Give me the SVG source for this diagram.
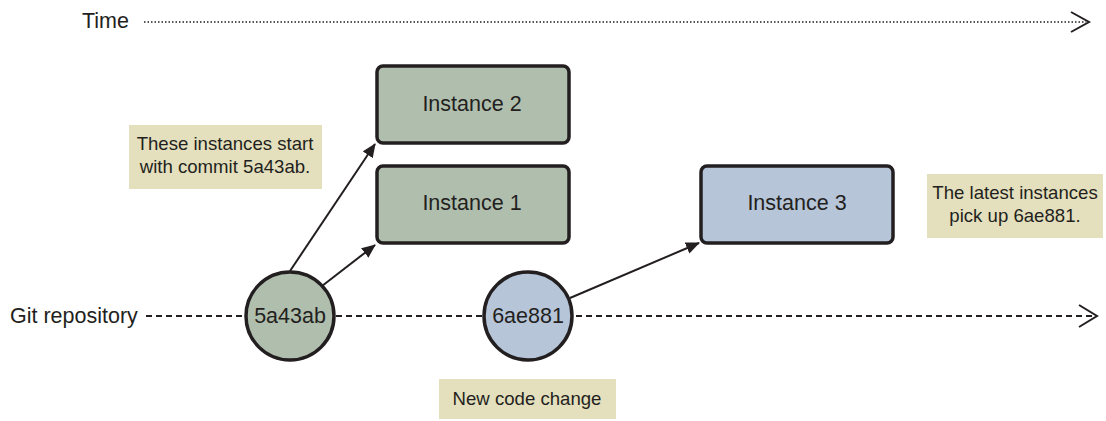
<svg xmlns="http://www.w3.org/2000/svg" width="1106" height="421" viewBox="0 0 1106 421">
<defs>
<style>
text{font-family:"Liberation Sans",Arial,sans-serif;font-size:21.5px;fill:#231f20}
.box{stroke:#231f20;stroke-width:3.5}
.g{fill:#b0bead}
.b{fill:#b6c5d8}
.note{fill:#e4dfbd}
.nt{font-size:18.6px}
.conn{stroke:#231f20;stroke-width:2;fill:none}
.c{text-anchor:middle}
</style>
<marker id="ah" viewBox="0 0 14 12" refX="13" refY="6" markerWidth="14" markerHeight="12" markerUnits="userSpaceOnUse" orient="auto">
<path d="M0,0 L14,6 L0,12 Z" fill="#231f20"/>
</marker>
</defs>
<rect width="1106" height="421" fill="#fff"/>
<g id="time-axis">
<text x="82" y="28">Time</text>
<line x1="144" y1="22" x2="1086" y2="22" stroke="#231f20" stroke-width="1.5" stroke-dasharray="1.5 2"/>
<polyline points="1071,12 1089,22 1071,32" class="conn" stroke-width="2"/>
</g>
<g id="git-axis">
<text x="10" y="323">Git repository</text>
<line x1="146" y1="316" x2="1094" y2="316" stroke="#231f20" stroke-width="1.8" stroke-dasharray="6 4"/>
<polyline points="1079,305 1097,316 1079,327" class="conn"/>
</g>
<g id="connectors">
<line x1="290" y1="271" x2="375" y2="144" class="conn" marker-end="url(#ah)"/>
<line x1="322" y1="286" x2="375" y2="245" class="conn" marker-end="url(#ah)"/>
<line x1="570" y1="298" x2="699" y2="243" class="conn" marker-end="url(#ah)"/>
</g>
<g id="instance2">
<rect x="377" y="66" width="192" height="77" rx="6" class="box g"/>
<text x="472" y="111" class="c">Instance 2</text>
</g>
<g id="instance1">
<rect x="377" y="166" width="192" height="77" rx="6" class="box g"/>
<text x="472" y="210" class="c">Instance 1</text>
</g>
<g id="instance3">
<rect x="701" y="166" width="192" height="77" rx="6" class="box b"/>
<text x="797" y="210" class="c">Instance 3</text>
</g>
<g id="commit-5a43ab">
<circle cx="290" cy="316" r="44" class="box g"/>
<text x="290" y="323" class="c">5a43ab</text>
</g>
<g id="commit-6ae881">
<circle cx="528" cy="316" r="44" class="box b"/>
<text x="528" y="323" class="c">6ae881</text>
</g>
<g id="note-start">
<rect x="129" y="125" width="193" height="64" class="note"/>
<text x="225" y="150" class="c nt">These instances start</text>
<text x="225" y="173" class="c nt">with commit 5a43ab.</text>
</g>
<g id="note-latest">
<rect x="927" y="174" width="176" height="64" class="note"/>
<text x="1015" y="199" class="c nt">The latest instances</text>
<text x="1015" y="222" class="c nt">pick up 6ae881.</text>
</g>
<g id="note-change">
<rect x="439" y="379" width="177" height="40" class="note"/>
<text x="527" y="405" class="c nt">New code change</text>
</g>
</svg>
